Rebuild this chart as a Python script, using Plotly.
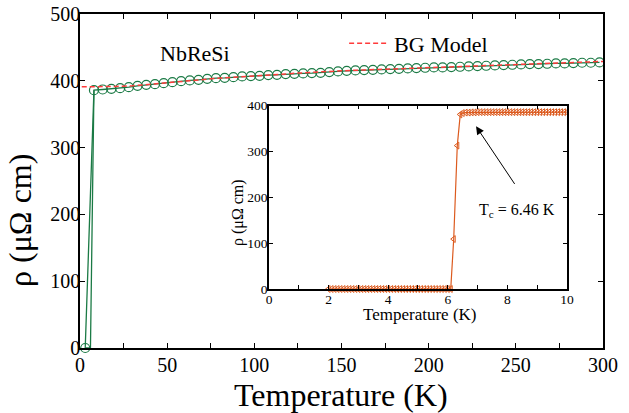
import plotly.graph_objects as go

# ---------------- data ----------------
# main panel: measured resistivity (circles)
main_T = [3, 8, 13, 18, 23, 28, 33, 38, 43, 48, 53, 58, 63, 68, 73, 78, 83, 88, 93, 98,
          103, 108, 113, 118, 123, 128, 133, 138, 143, 148, 153, 158, 163, 168, 173, 178,
          183, 188, 193, 198, 203, 208, 213, 218, 223, 228, 233, 238, 243, 248, 253, 258,
          263, 268, 273, 278, 283, 288, 293, 298]
main_rho = [0, 386, 387, 388, 389, 390.5, 392.5, 394, 395, 396.5, 398, 399.5, 400.5, 401.5,
            403, 404, 404.5, 405.5, 406.5, 407, 407.5, 408.5, 409, 410, 410.5, 411, 411.5,
            412, 413, 414, 415, 415.5, 416, 416.5, 417, 417.5, 418, 418.5, 419, 419.5, 420,
            420, 420.5, 421, 421.5, 422, 422.5, 423, 423.5, 424, 424.5, 425, 425, 425.5, 426,
            426, 426.5, 427, 427, 427.5]
# connecting line through the superconducting transition
trans_T = [3, 6, 8]
trans_rho = [0, 0, 386]

# Bloch-Grüneisen fit
bg_T = [1, 10, 20, 30, 40, 50, 75, 100, 125, 150, 175, 200, 225, 250, 275, 300]
bg_rho = [391, 391, 391.5, 392.5, 394.5, 397, 403, 407.5, 411.5, 415, 417.5, 420, 422.5,
          424.5, 426.5, 429]

# inset: low-temperature transition
ins_T = [2.0, 2.1, 2.2, 2.3, 2.4, 2.5, 2.6, 2.7, 2.8, 2.9, 3.0, 3.1, 3.2, 3.3, 3.4, 3.5,
         3.6, 3.7, 3.8, 3.9, 4.0, 4.1, 4.2, 4.3, 4.4, 4.5, 4.6, 4.7, 4.8, 4.9, 5.0, 5.1,
         5.2, 5.3, 5.4, 5.5, 5.6, 5.7, 5.8, 5.9, 6.0, 6.1, 6.2, 6.32, 6.42, 6.5, 6.6, 6.7,
         6.8, 6.9, 7.0, 7.1, 7.2, 7.3, 7.4, 7.5, 7.6, 7.7, 7.8, 7.9, 8.0, 8.1, 8.2, 8.3,
         8.4, 8.5, 8.6, 8.7, 8.8, 8.9, 9.0, 9.1, 9.2, 9.3, 9.4, 9.5, 9.6, 9.7, 9.8, 9.9, 10.0]
ins_rho = [0, 0, 0, 0, 0, 0, 0, 0, 0, 0, 0, 0, 0, 0, 0, 0,
           0, 0, 0, 0, 0, 0, 0, 0, 0, 0, 0, 0, 0, 0, 0, 0,
           0, 0, 0, 0, 0, 0, 0, 0, 0, 0, 109, 313, 381, 384, 385, 385,
           385.5, 385.5, 386, 386, 386, 386, 386, 386, 386, 386, 386, 386, 386, 386, 386, 386,
           386, 386, 386, 386, 386, 386, 386, 386, 386, 386, 386, 386, 386, 386, 386, 386, 386]

x_ticks_main = [0, 50, 100, 150, 200, 250, 300]
y_ticks_main = [0, 100, 200, 300, 400, 500]
x_ticks_ins = [0, 2, 4, 6, 8, 10]
y_ticks_ins = [0, 100, 200, 300, 400]

# ---------------- style ----------------
SERIF = "Liberation Serif"
GREEN = "#1b7a45"
RED = "#ff3b3b"
ORANGE = "#dc5a1e"

fig = go.Figure()

fig.add_trace(go.Scatter(x=trans_T, y=trans_rho, mode="lines",
                         line=dict(color=GREEN, width=1.3), showlegend=False,
                         cliponaxis=False))
fig.add_trace(go.Scatter(x=main_T, y=main_rho, mode="lines+markers",
                         line=dict(color=GREEN, width=1.3),
                         marker=dict(symbol="circle-open", size=9, color=GREEN,
                                     line=dict(width=1.2, color=GREEN)),
                         showlegend=False, cliponaxis=False))
fig.add_trace(go.Scatter(x=bg_T, y=bg_rho, mode="lines", name="BG Model",
                         line=dict(color=RED, width=1.5, dash="5px,3px"),
                         showlegend=True))
fig.add_trace(go.Scatter(x=ins_T, y=ins_rho, mode="lines+markers", xaxis="x2", yaxis="y2",
                         line=dict(color=ORANGE, width=1.2),
                         marker=dict(symbol="triangle-left-open", size=6, color=ORANGE,
                                     line=dict(width=1, color=ORANGE)),
                         showlegend=False, cliponaxis=False))

axis_common = dict(showline=True, linecolor="black", linewidth=1.5, mirror="allticks",
                   ticks="inside", tickcolor="black", showgrid=False, zeroline=False,
                   automargin=False)

fig.update_layout(
    width=629, height=413,
    margin=dict(l=80, r=26, t=14, b=65, autoexpand=False),
    paper_bgcolor="white", plot_bgcolor="white",
    font=dict(family=SERIF, color="black"),
    xaxis=dict(range=[0, 300], tickvals=x_ticks_main, ticklen=5, tickwidth=1.2,
               minor=dict(dtick=25, ticks="inside", ticklen=5, tickcolor="black"),
               ticklabelstandoff=-2,
               tickfont=dict(size=20, family=SERIF), **axis_common),
    yaxis=dict(range=[0, 500], tickvals=y_ticks_main, ticklen=5, tickwidth=1.2,
               ticklabelstandoff=-6,
               tickfont=dict(size=20, family=SERIF), **axis_common),
    xaxis2=dict(domain=[0.3614, 0.931], anchor="y2", range=[0, 10], tickvals=x_ticks_ins,
                ticklen=4, tickwidth=1,
                minor=dict(dtick=1, ticks="inside", ticklen=4, tickcolor="black"),
                ticklabelstandoff=-3,
                tickfont=dict(size=13.5, family=SERIF), **axis_common),
    yaxis2=dict(domain=[0.1766, 0.7254], anchor="x2", range=[0, 400], tickvals=y_ticks_ins,
                ticklen=4, tickwidth=1,
                ticklabelstandoff=-3,
                tickfont=dict(size=13.5, family=SERIF), **axis_common),
    legend=dict(x=0.505, y=0.975, xanchor="left", yanchor="top", bgcolor="rgba(0,0,0,0)",
                font=dict(size=22, family=SERIF), itemwidth=40, tracegroupgap=0),
    annotations=[
        # axis titles
        dict(x=0.499, y=-0.141, xref="paper", yref="paper", text="Temperature (K)",
             xanchor="center", yanchor="middle",
             showarrow=False, font=dict(size=32, family=SERIF)),
        dict(x=-0.115, y=0.383, xref="paper", yref="paper", text="ρ (μΩ cm)", textangle=-90,
             xanchor="center", yanchor="middle",
             showarrow=False, font=dict(size=32, family=SERIF)),
        dict(x=0.650, y=0.100, xref="paper", yref="paper", text="Temperature (K)",
             xanchor="center", yanchor="middle",
             showarrow=False, font=dict(size=17, family=SERIF)),
        dict(x=0.302, y=0.407, xref="paper", yref="paper", text="ρ (μΩ cm)", textangle=-90,
             xanchor="center", yanchor="middle",
             showarrow=False, font=dict(size=16, family=SERIF)),
        # labels
        dict(x=66, y=441, xref="x", yref="y", text="NbReSi", showarrow=False,
             xanchor="center", yanchor="middle",
             font=dict(size=22, family=SERIF)),
        dict(x=6.95, y=355, xref="x2", yref="y2", ax=8.29, ay=225, axref="x2", ayref="y2",
             text=" ", showarrow=True, arrowhead=2, arrowsize=1.6, arrowwidth=1,
             arrowcolor="black", font=dict(size=1)),
        dict(x=8.32, y=172, xref="x2", yref="y2", text="T<sub>c</sub> = 6.46 K",
             xanchor="center", yanchor="middle",
             showarrow=False, font=dict(size=16, family=SERIF)),
    ],
)

fig.write_html("out.html", config={"displayModeBar": False},
               post_script="document.body.style.margin='0';")
